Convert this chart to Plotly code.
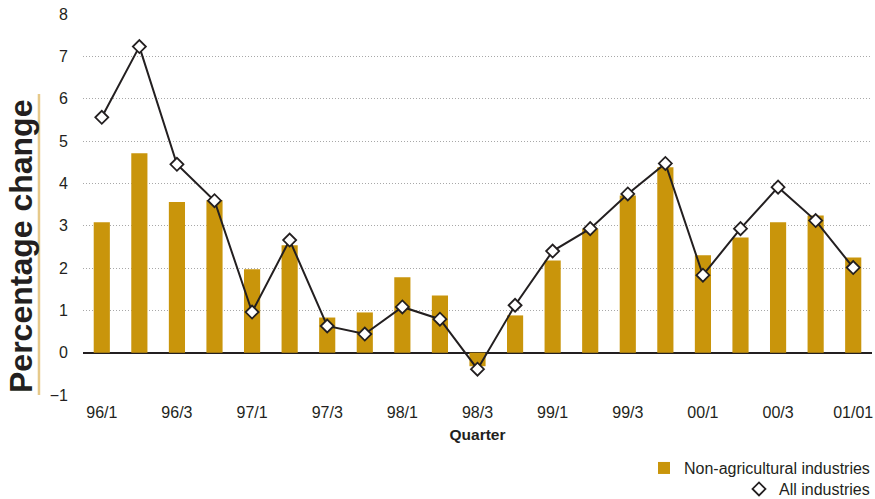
import plotly.graph_objects as go

# Quarterly percentage change in employment
quarters = [
    "96/1", "96/2", "96/3", "96/4",
    "97/1", "97/2", "97/3", "97/4",
    "98/1", "98/2", "98/3", "98/4",
    "99/1", "99/2", "99/3", "99/4",
    "00/1", "00/2", "00/3", "00/4",
    "01/1",
]
non_agricultural = [
    3.08, 4.71, 3.56, 3.60,
    1.97, 2.54, 0.83, 0.95,
    1.78, 1.35, -0.32, 0.88,
    2.18, 2.93, 3.71, 4.38,
    2.30, 2.72, 3.08, 3.24,
    2.25,
]
all_industries = [
    5.56, 7.23, 4.45, 3.59,
    0.96, 2.66, 0.63, 0.44,
    1.08, 0.79, -0.39, 1.12,
    2.40, 2.93, 3.75, 4.47,
    1.83, 2.93, 3.91, 3.12,
    2.01,
]
tick_positions = quarters[::2]
tick_labels = ["96/1", "96/3", "97/1", "97/3", "98/1", "98/3",
               "99/1", "99/3", "00/1", "00/3", "01/01"]

FONT = "Liberation Sans, Arial, sans-serif"
TEXT = "#231f20"

fig = go.Figure()

fig.add_trace(go.Bar(
    x=quarters,
    y=non_agricultural,
    name="Non-agricultural industries",
    marker=dict(color="#c9950b", line=dict(width=0)),
    width=0.43,
    legend="legend",
))

# connecting line for all industries
fig.add_trace(go.Scatter(
    x=quarters,
    y=all_industries,
    name="All industries",
    mode="lines",
    line=dict(color=TEXT, width=2),
    showlegend=False,
    hoverinfo="skip",
))

# diamond markers for all industries (legend shows the marker only)
fig.add_trace(go.Scatter(
    x=quarters,
    y=all_industries,
    name="All industries",
    mode="markers",
    marker=dict(symbol="diamond", size=10, color="white",
                line=dict(color=TEXT, width=1.8)),
    legend="legend2",
))

fig.update_layout(
    width=875,
    height=499,
    margin=dict(l=83, r=3, t=14, b=104, autoexpand=False),
    paper_bgcolor="white",
    plot_bgcolor="white",
    font=dict(family=FONT, size=16, color=TEXT),
    showlegend=True,
    legend=dict(
        xref="container", yref="container",
        x=1.004, xanchor="right", y=0.062, yanchor="middle",
        bgcolor="rgba(0,0,0,0)", borderwidth=0,
        font=dict(size=16, color=TEXT),
        itemwidth=30,
    ),
    legend2=dict(
        xref="container", yref="container",
        x=1.004, xanchor="right", y=0.02, yanchor="middle",
        bgcolor="rgba(0,0,0,0)", borderwidth=0,
        font=dict(size=16, color=TEXT),
        itemwidth=30,
    ),
    xaxis=dict(
        type="category",
        range=[-0.5, 20.5],
        tickmode="array",
        tickvals=tick_positions,
        ticktext=tick_labels,
        showgrid=False,
        showline=False,
        ticks="",
        ticklabelstandoff=6,
        tickfont=dict(size=16, color=TEXT),
        title=dict(text="<b>Quarter</b>", font=dict(size=15.5, color=TEXT),
                   standoff=9),
    ),
    yaxis=dict(
        range=[-1, 8],
        tickmode="linear",
        tick0=-1,
        dtick=1,
        showgrid=True,
        gridcolor="#a8a8a8",
        griddash="1px,2px",
        gridwidth=1,
        zeroline=True,
        zerolinecolor=TEXT,
        zerolinewidth=2.2,
        showline=False,
        ticks="",
        ticklabelstandoff=14,
        tickfont=dict(size=16, color=TEXT),
    ),
    annotations=[
        dict(
            text="<b>Percentage change</b>",
            xref="paper", yref="paper",
            x=-0.0786, y=0.391,
            xanchor="center", yanchor="middle",
            textangle=-90,
            showarrow=False,
            font=dict(size=32, color=TEXT, family=FONT),
        )
    ],
    shapes=[
        dict(
            type="line", xref="paper", yref="paper",
            x0=-0.0558, x1=-0.0558, y0=0.0, y1=0.79,
            line=dict(color="#e6c98a", width=2.5),
        )
    ],
)

fig.write_html("out.html")
